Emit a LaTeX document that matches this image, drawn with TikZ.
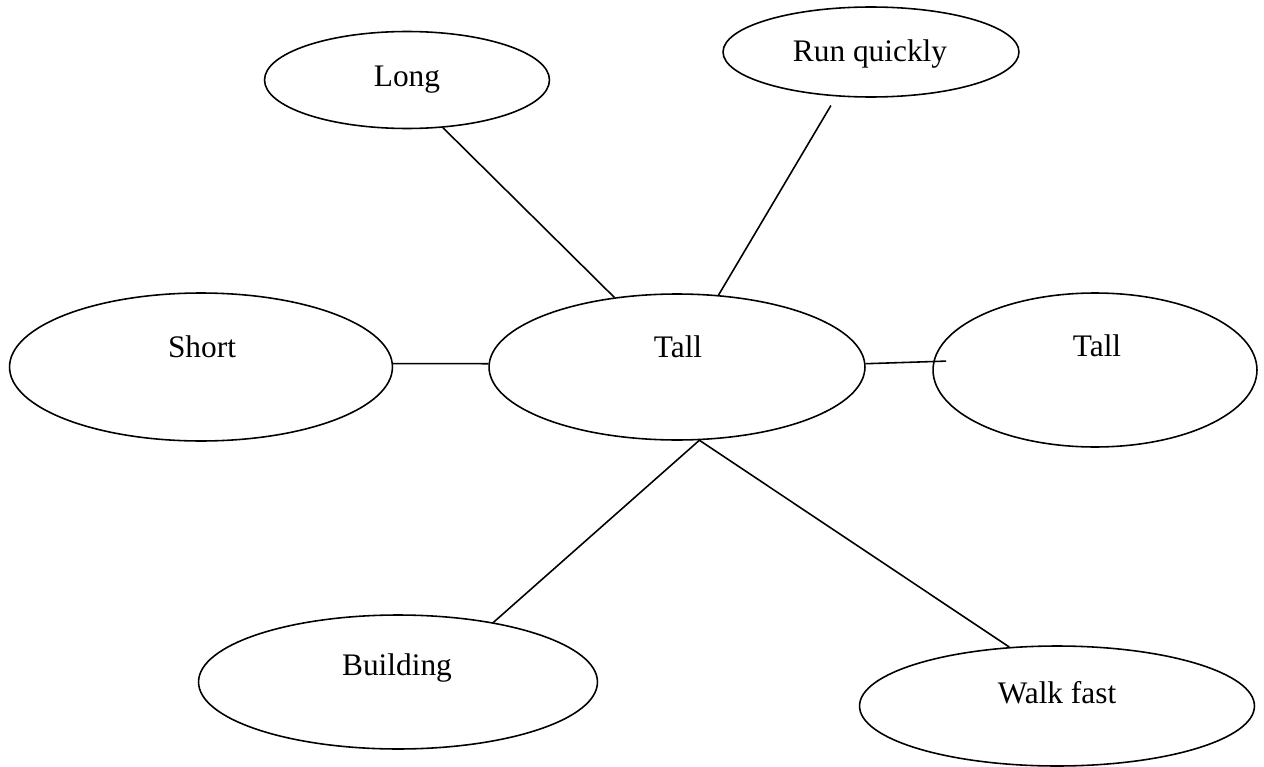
\documentclass[tikz,border=0pt]{standalone}
\usepackage{fontspec}
\setmainfont{Liberation Serif}
\usepackage{tikz}
\usetikzlibrary{shapes.geometric}

\begin{document}
\begin{tikzpicture}[x=0.02cm,y=-0.02cm,
    bubble/.style={ellipse,draw,line width=0.9pt,inner sep=0pt},
    word/.style={anchor=base,font=\fontsize{17.85}{21}\selectfont},
    link/.style={line width=0.9pt}]
    \useasboundingbox (0,0) rectangle (1264,767);
    % the ellipses
    \node[bubble,minimum width=5.70cm,minimum height=1.94cm] (long)  at (407,80)  {};
    \node[bubble,minimum width=5.92cm,minimum height=1.80cm] (run)   at (871,52)  {};
    \node[bubble,minimum width=7.66cm,minimum height=2.96cm] (short) at (201,367) {};
    \node[bubble,minimum width=7.52cm,minimum height=2.92cm] (tall)  at (677,367) {};
    \node[bubble,minimum width=6.48cm,minimum height=3.08cm] (tallr) at (1095,370) {};
    \node[bubble,minimum width=7.98cm,minimum height=2.68cm] (build) at (398,682) {};
    \node[bubble,minimum width=7.90cm,minimum height=2.40cm] (walk)  at (1057,706) {};
    % the words
    \node[word] (longtxt)  at (407,87)  {Long};
    \node[word] (runtxt)   at (870,62)  {Run quickly};
    \node[word] (shorttxt) at (202,357) {Short};
    \node[word] (talltxt)  at (678,357) {Tall};
    \node[word] (tallrtxt) at (1097,356) {Tall};
    \node[word] (buildtxt) at (397,675) {Building};
    \node[word] (walktxt)  at (1057,703) {Walk fast};
    % the links
    \draw[link] (long.-53.3) -- (tall.132.4);
    \draw[link,shorten <=0.21cm] (run.-128.5) -- (tall.60.1);
    \draw[link] (short.1.5) -- (tall.179.1);
    \draw[link,shorten >=-0.26cm] (tall.1.5) -- (tallr.177.2);
    \draw[link] (tall.-73.2) -- (build.32.3);
    \draw[link] (tall.-73.2) -- (walk.129.1);
\end{tikzpicture}
\end{document}
